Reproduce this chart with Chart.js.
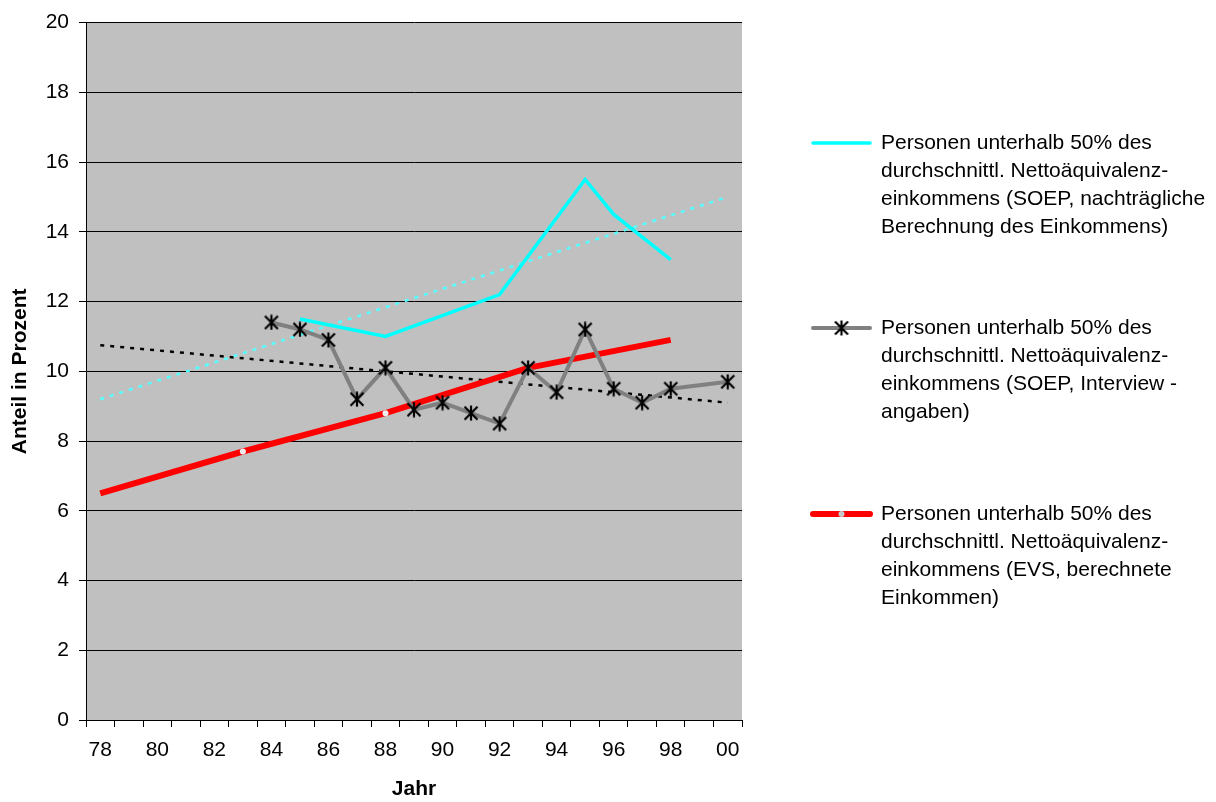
<!DOCTYPE html>
<html>
<head>
<meta charset="utf-8">
<script src="https://cdn.jsdelivr.net/npm/chart.js@4/dist/chart.umd.min.js"></script>
<style>
  html, body { margin: 0; padding: 0; background: #ffffff; }
  #wrap { width: 1216px; height: 802px; position: relative; }
</style>
</head>
<body>
<div id="wrap"><canvas id="chart" width="1216" height="802"></canvas></div>
<script>
// Years 1978–2000, shown as two-digit labels
const years = ['78','79','80','81','82','83','84','85','86','87','88','89',
               '90','91','92','93','94','95','96','97','98','99','00'];

// SOEP, income computed afterwards (share in %)
const soepComputed = [null,null,null,null,null,null,null,11.5,null,null,11.0,null,
                      null,null,12.2,null,null,15.5,14.5,null,13.2,null,null];

// SOEP, interview data (share in %)
const soepInterview = [null,null,null,null,null,null,11.4,11.2,10.9,9.2,10.1,8.9,
                       9.1,8.8,8.5,10.1,9.4,11.2,9.5,9.1,9.5,null,9.7];

// EVS, computed income (share in %)
const evsComputed = [6.5,null,null,null,null,7.7,null,null,null,null,8.8,null,
                     null,null,null,10.1,null,null,null,null,10.9,null,null];

// Linear trend lines (start and end values)
const trendComputed  = [9.2,null,null,null,null,null,null,null,null,null,null,null,
                        null,null,null,null,null,null,null,null,null,null,15.0];
const trendInterview = [10.75,null,null,null,null,null,null,null,null,null,null,null,
                        null,null,null,null,null,null,null,null,null,null,9.1];

const yTicks = [0, 2, 4, 6, 8, 10, 12, 14, 16, 18, 20];

const legendTexts = [
  ['Personen unterhalb 50% des', 'durchschnittl. Nettoäquivalenz-', 'einkommens (SOEP, nachträgliche', 'Berechnung des Einkommens)'],
  ['Personen unterhalb 50% des', 'durchschnittl. Nettoäquivalenz-', 'einkommens (SOEP, Interview -', 'angaben)'],
  ['Personen unterhalb 50% des', 'durchschnittl. Nettoäquivalenz-', 'einkommens (EVS, berechnete', 'Einkommen)']
];

const FONT = '"Liberation Sans", Arial, Helvetica, sans-serif';

// Asterisk marker: an X crossed by a vertical stroke
function makeAsterisk(size, width, color) {
  const c = document.createElement('canvas');
  c.width = size; c.height = size;
  const g = c.getContext('2d');
  g.strokeStyle = color; g.lineWidth = width; g.lineCap = 'butt';
  const m = 1.5, s = size - 1.5, h = size / 2;
  g.beginPath();
  g.moveTo(m, m); g.lineTo(s, s);
  g.moveTo(s, m); g.lineTo(m, s);
  g.moveTo(h, 0.5); g.lineTo(h, size - 0.5);
  g.stroke();
  return c;
}
const asterisk = makeAsterisk(16, 2.2, '#000000');

// Grey plot-area background
const plotBackground = {
  id: 'plotBackground',
  beforeDraw(chart) {
    const { ctx, chartArea: a } = chart;
    ctx.save();
    ctx.fillStyle = '#c0c0c0';
    ctx.fillRect(a.left, a.top, a.right - a.left, a.bottom - a.top);
    ctx.restore();
  }
};

// Legend with wrapped text on the right
const sideLegend = {
  id: 'sideLegend',
  afterDraw(chart) {
    const ctx = chart.ctx;
    const ds = chart.data.datasets;
    const items = [
      { y: 143, d: ds[0], marker: null },
      { y: 328, d: ds[1], marker: 'asterisk' },
      { y: 514, d: ds[2], marker: 'dot' }
    ];
    ctx.save();
    items.forEach((it, i) => {
      ctx.strokeStyle = it.d.borderColor;
      ctx.lineWidth = it.d.borderWidth;
      ctx.lineCap = 'round';
      ctx.beginPath();
      ctx.moveTo(813, it.y);
      ctx.lineTo(870, it.y);
      ctx.stroke();
      if (it.marker === 'asterisk') {
        ctx.drawImage(asterisk, 841.5 - 8, it.y - 8);
      } else if (it.marker === 'dot') {
        ctx.fillStyle = '#c8c8c8';
        ctx.beginPath();
        ctx.arc(841.5, it.y, 3, 0, Math.PI * 2);
        ctx.fill();
      }
      ctx.fillStyle = '#000000';
      ctx.font = '21px ' + FONT;
      ctx.textBaseline = 'middle';
      ctx.textAlign = 'left';
      legendTexts[i].forEach((line, k) => {
        ctx.fillText(line, 881, it.y + k * 28);
      });
    });
    ctx.restore();
  }
};

new Chart(document.getElementById('chart'), {
  type: 'line',
  data: {
    labels: years,
    datasets: [
      {
        label: 'SOEP, nachträgliche Berechnung',
        data: soepComputed,
        borderColor: '#00ffff',
        borderWidth: 3.5,
        pointRadius: 0,
        spanGaps: true,
        tension: 0,
        order: 2
      },
      {
        label: 'SOEP, Interviewangaben',
        data: soepInterview,
        borderColor: '#808080',
        borderWidth: 4,
        pointStyle: asterisk,
        pointRadius: 8,
        spanGaps: true,
        tension: 0,
        order: 1
      },
      {
        label: 'EVS, berechnete Einkommen',
        data: evsComputed,
        borderColor: '#ff0000',
        borderWidth: 6,
        pointRadius: [0, 0, 0, 0, 0, 3, 0, 0, 0, 0, 3, 0, 0, 0, 0, 0, 0, 0, 0, 0, 0, 0, 0],
        pointBorderWidth: 0,
        pointBackgroundColor: '#eeeeee',
        spanGaps: true,
        tension: 0,
        order: 3
      },
      {
        label: 'Trend SOEP nachträglich',
        data: trendComputed,
        borderColor: '#55ffff',
        borderWidth: 2.5,
        borderDash: [4, 6],
        pointRadius: 0,
        spanGaps: true,
        order: 4
      },
      {
        label: 'Trend SOEP Interview',
        data: trendInterview,
        borderColor: '#000000',
        borderWidth: 2.5,
        borderDash: [4, 6],
        pointRadius: 0,
        spanGaps: true,
        order: 5
      }
    ]
  },
  options: {
    responsive: false,
    animation: false,
    layout: { padding: { left: 0, right: 474, top: 20, bottom: 0 } },
    plugins: {
      legend: { display: false },
      tooltip: { enabled: false }
    },
    scales: {
      x: {
        type: 'category',
        offset: true,
        border: { display: true, color: '#000000', width: 1 },
        grid: {
          offset: true,
          drawOnChartArea: false,
          drawTicks: true,
          tickLength: 7,
          color: '#000000'
        },
        ticks: {
          autoSkip: false,
          maxRotation: 0,
          color: '#000000',
          padding: 11,
          font: { family: FONT, size: 21 },
          callback: (v, i) => (i % 2 === 0 ? years[i] : '')
        },
        title: {
          display: true,
          text: 'Jahr',
          color: '#000000',
          font: { family: FONT, size: 21, weight: 'bold' },
          padding: { top: 12, bottom: 0 }
        },
        afterFit(scale) { scale.height = 82; }
      },
      y: {
        min: 0,
        max: 20,
        afterBuildTicks(scale) { scale.ticks = yTicks.map(v => ({ value: v })); },
        border: { display: true, color: '#000000', width: 1 },
        grid: {
          color: '#000000',
          lineWidth: 1,
          drawTicks: true,
          tickLength: 7
        },
        ticks: {
          color: '#000000',
          padding: 10,
          font: { family: FONT, size: 21 }
        },
        title: {
          display: true,
          text: 'Anteil in Prozent',
          color: '#000000',
          font: { family: FONT, size: 21, weight: 'bold' },
          padding: { top: 8, bottom: 0 }
        },
        afterFit(scale) { scale.width = 86; }
      }
    }
  },
  plugins: [plotBackground, sideLegend]
});
</script>
</body>
</html>
